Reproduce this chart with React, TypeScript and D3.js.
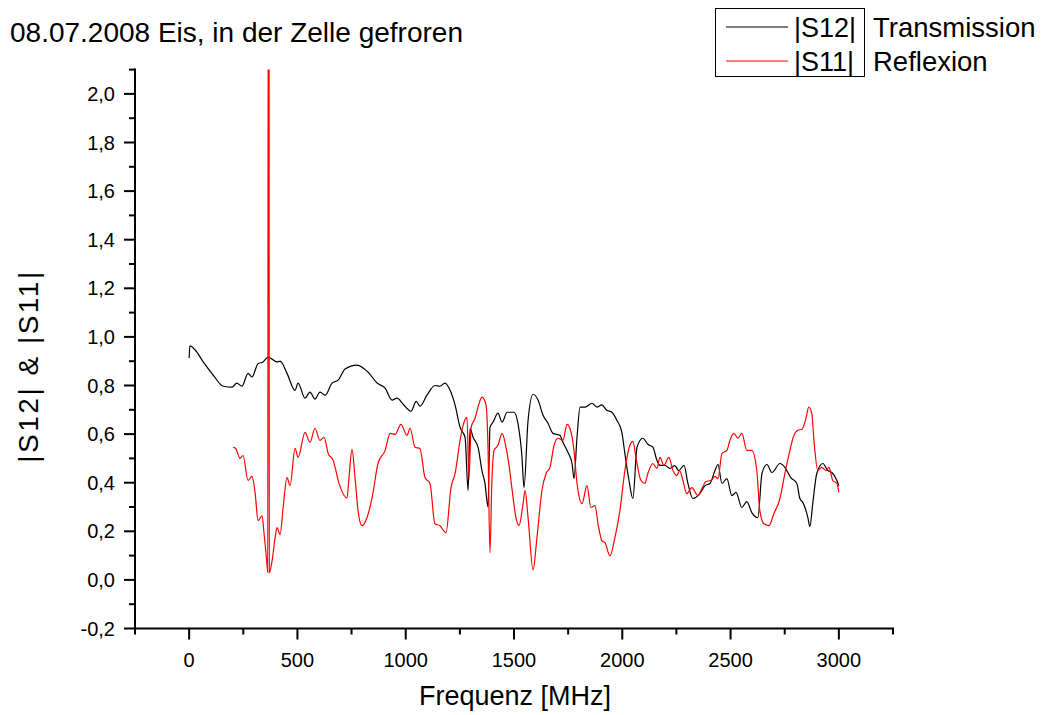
import { useRef, useEffect } from 'react';
import * as d3 from 'd3';

// |S12| Transmission, [MHz, value]
const s12: [number, number][] = [
  [0, 0.913], [3, 0.963], [28, 0.946], [65, 0.897], [111, 0.843], [157, 0.797], [198, 0.793],
  [220, 0.81], [244, 0.797], [272, 0.85], [290, 0.835], [318, 0.89], [341, 0.897], [365, 0.917],
  [406, 0.897], [420, 0.9], [452, 0.85], [489, 0.78], [503, 0.81], [535, 0.748], [558, 0.773],
  [581, 0.744], [604, 0.773], [628, 0.76], [660, 0.81], [688, 0.822], [720, 0.868], [775, 0.884],
  [826, 0.855], [868, 0.81], [905, 0.789], [937, 0.74], [960, 0.748], [988, 0.723], [1025, 0.694],
  [1048, 0.735], [1066, 0.715], [1098, 0.76], [1135, 0.8], [1158, 0.797], [1181, 0.81], [1205, 0.78],
  [1228, 0.719], [1251, 0.628], [1274, 0.587], [1288, 0.368], [1297, 0.624], [1311, 0.587],
  [1334, 0.546], [1352, 0.45], [1366, 0.397], [1380, 0.3], [1389, 0.628], [1403, 0.649],
  [1426, 0.686], [1445, 0.649], [1468, 0.69], [1500, 0.69], [1518, 0.645], [1537, 0.504],
  [1546, 0.38], [1565, 0.657], [1588, 0.764], [1611, 0.74], [1634, 0.678], [1657, 0.645],
  [1680, 0.603], [1712, 0.595], [1726, 0.566], [1749, 0.525], [1768, 0.479], [1777, 0.417],
  [1791, 0.587], [1805, 0.711], [1828, 0.711], [1860, 0.727], [1883, 0.711], [1905, 0.72],
  [1929, 0.698], [1952, 0.69], [1975, 0.657], [1998, 0.607], [2012, 0.52], [2031, 0.409],
  [2049, 0.335], [2068, 0.546], [2095, 0.583], [2118, 0.558], [2141, 0.546], [2160, 0.492],
  [2174, 0.471], [2197, 0.471], [2220, 0.459], [2243, 0.47], [2260, 0.45], [2285, 0.471],
  [2303, 0.397], [2326, 0.335], [2358, 0.355], [2382, 0.388], [2405, 0.397], [2428, 0.45],
  [2442, 0.475], [2460, 0.397], [2483, 0.417], [2506, 0.347], [2525, 0.36], [2552, 0.298],
  [2575, 0.322], [2598, 0.277], [2626, 0.256], [2645, 0.438], [2668, 0.475], [2691, 0.442],
  [2728, 0.479], [2751, 0.463], [2778, 0.421], [2806, 0.397], [2820, 0.335], [2834, 0.318],
  [2857, 0.256], [2866, 0.219], [2880, 0.318], [2898, 0.438], [2926, 0.479], [2949, 0.45],
  [2968, 0.442], [2991, 0.409], [3000, 0.388],
];

// |S11| Reflexion, [MHz, value] (spike near 366 MHz runs off the top)
const s11: [number, number][] = [
  [203, 0.546], [215, 0.541], [235, 0.5], [249, 0.512], [272, 0.409], [290, 0.426], [305, 0.355],
  [318, 0.244], [337, 0.264], [346, 0.19], [358, 0.08], [363, 0.03], [365, 2.5], [369, 2.5],
  [370, 0.03], [383, 0.079],
  [397, 0.174], [406, 0.215], [420, 0.186], [434, 0.298], [452, 0.421], [466, 0.388], [489, 0.541],
  [503, 0.504], [535, 0.607], [558, 0.566], [581, 0.624], [604, 0.574], [623, 0.587], [642, 0.52],
  [665, 0.492], [692, 0.397], [729, 0.337], [738, 0.42], [752, 0.537], [766, 0.421], [780, 0.285],
  [798, 0.223], [821, 0.256], [845, 0.339], [872, 0.479], [905, 0.533], [928, 0.603], [951, 0.599],
  [978, 0.64], [1006, 0.595], [1020, 0.624], [1043, 0.546], [1066, 0.54], [1089, 0.421],
  [1112, 0.397], [1135, 0.231], [1158, 0.223], [1186, 0.194], [1209, 0.38], [1228, 0.438],
  [1251, 0.574], [1265, 0.636], [1283, 0.669], [1292, 0.417], [1302, 0.628], [1320, 0.665],
  [1334, 0.711], [1352, 0.752], [1371, 0.719], [1380, 0.546], [1389, 0.112], [1398, 0.409],
  [1408, 0.533], [1426, 0.554], [1445, 0.603], [1463, 0.546], [1477, 0.471], [1490, 0.38],
  [1509, 0.256], [1523, 0.223], [1542, 0.314], [1551, 0.368], [1565, 0.256], [1588, 0.041],
  [1606, 0.174], [1629, 0.368], [1648, 0.438], [1666, 0.463], [1685, 0.554], [1703, 0.583],
  [1726, 0.574], [1745, 0.64], [1758, 0.624], [1777, 0.533], [1791, 0.397], [1814, 0.314],
  [1837, 0.388], [1855, 0.298], [1874, 0.306], [1888, 0.231], [1906, 0.161], [1920, 0.153],
  [1943, 0.099], [1966, 0.174], [1989, 0.285], [2012, 0.45], [2035, 0.554], [2049, 0.57],
  [2063, 0.504], [2086, 0.409], [2104, 0.397], [2118, 0.438], [2141, 0.479], [2160, 0.459],
  [2174, 0.504], [2192, 0.471], [2215, 0.504], [2234, 0.45], [2252, 0.43], [2265, 0.45],
  [2280, 0.409], [2298, 0.355], [2321, 0.38], [2349, 0.347], [2368, 0.376], [2386, 0.405],
  [2409, 0.409], [2428, 0.426], [2442, 0.417], [2460, 0.52], [2483, 0.533], [2497, 0.574],
  [2515, 0.603], [2534, 0.583], [2552, 0.603], [2575, 0.533], [2598, 0.533], [2621, 0.45],
  [2635, 0.285], [2654, 0.231], [2677, 0.223], [2700, 0.273], [2728, 0.335], [2751, 0.438],
  [2774, 0.533], [2788, 0.583], [2811, 0.616], [2830, 0.62], [2848, 0.665], [2861, 0.711],
  [2875, 0.686], [2885, 0.574], [2903, 0.45], [2921, 0.463], [2940, 0.45], [2954, 0.463],
  [2972, 0.409], [2991, 0.397], [3000, 0.36],
];

const xMajor = [0, 500, 1000, 1500, 2000, 2500, 3000];
const xMinor = [-250, 250, 750, 1250, 1750, 2250, 2750, 3250];
const yMajor = [-0.2, 0, 0.2, 0.4, 0.6, 0.8, 1.0, 1.2, 1.4, 1.6, 1.8, 2.0];
const yMinor = [-0.1, 0.1, 0.3, 0.5, 0.7, 0.9, 1.1, 1.3, 1.5, 1.7, 1.9, 2.1];

const legendItems = [
  { name: '|S12|', desc: 'Transmission', color: '#000000' },
  { name: '|S11|', desc: 'Reflexion', color: '#ff0000' },
];

const FONT = '"Liberation Sans", Arial, sans-serif';

export default function App() {
  const svgRef = useRef<SVGSVGElement>(null);
  const width = 1043;
  const height = 715;

  useEffect(() => {
    const svg = d3.select(svgRef.current);
    svg.selectAll('*').remove();

    const x = d3.scaleLinear().domain([-250, 3250]).range([135, 893]);
    const y = d3.scaleLinear().domain([-0.2, 2.1]).range([628.5, 69.6]);

    svg.append('rect').attr('width', width).attr('height', height).attr('fill', '#fff');

    svg.append('defs').append('clipPath').attr('id', 'plotclip')
      .append('rect')
      .attr('x', x(-250)).attr('y', y(2.1))
      .attr('width', x(3250) - x(-250)).attr('height', y(-0.2) - y(2.1));

    // Title
    svg.append('text').attr('x', 10).attr('y', 42)
      .attr('font-family', FONT).attr('font-size', 28).attr('fill', '#000')
      .text('08.07.2008 Eis, in der Zelle gefroren');

    const line = d3.line<[number, number]>()
      .x(d => x(d[0]))
      .y(d => y(d[1]))
      .curve(d3.curveMonotoneX);

    const plot = svg.append('g').attr('clip-path', 'url(#plotclip)');
    plot.append('path').datum(s12)
      .attr('d', line).attr('fill', 'none')
      .attr('stroke', '#000').attr('stroke-width', 1.2);
    plot.append('path').datum(s11)
      .attr('d', line).attr('fill', 'none')
      .attr('stroke', '#ff0000').attr('stroke-width', 1.2);

    // Axes
    const ax = svg.append('g').attr('stroke', '#000').attr('stroke-width', 2);
    ax.append('line').attr('x1', x(-250)).attr('x2', x(3250))
      .attr('y1', y(-0.2)).attr('y2', y(-0.2)).attr('stroke-linecap', 'square');
    ax.append('line').attr('x1', x(-250)).attr('x2', x(-250))
      .attr('y1', y(-0.2)).attr('y2', y(2.1)).attr('stroke-linecap', 'square');

    xMajor.forEach(t => {
      ax.append('line').attr('x1', x(t)).attr('x2', x(t))
        .attr('y1', y(-0.2)).attr('y2', y(-0.2) + 11);
    });
    xMinor.forEach(t => {
      ax.append('line').attr('x1', x(t)).attr('x2', x(t))
        .attr('y1', y(-0.2)).attr('y2', y(-0.2) + 6);
    });
    yMajor.forEach(t => {
      ax.append('line').attr('x1', x(-250) - 11).attr('x2', x(-250))
        .attr('y1', y(t)).attr('y2', y(t));
    });
    yMinor.forEach(t => {
      ax.append('line').attr('x1', x(-250) - 6).attr('x2', x(-250))
        .attr('y1', y(t)).attr('y2', y(t));
    });

    xMajor.forEach(t => {
      svg.append('text').attr('x', x(t)).attr('y', y(-0.2) + 38)
        .attr('text-anchor', 'middle').attr('font-family', FONT)
        .attr('font-size', 20).text(String(t));
    });
    yMajor.forEach(t => {
      svg.append('text').attr('x', x(-250) - 20).attr('y', y(t) + 7)
        .attr('text-anchor', 'end').attr('font-family', FONT)
        .attr('font-size', 20).text(t.toFixed(1).replace('.', ','));
    });

    // Axis titles
    svg.append('text').attr('x', 515).attr('y', 705)
      .attr('text-anchor', 'middle').attr('font-family', FONT)
      .attr('font-size', 27).text('Frequenz [MHz]');
    svg.append('text')
      .attr('transform', `translate(38,366) rotate(-90)`)
      .attr('text-anchor', 'middle').attr('font-family', FONT)
      .attr('font-size', 28).attr('letter-spacing', 2.5).text('|S12| & |S11|');

    // Legend
    const lg = svg.append('g');
    lg.append('rect').attr('x', 715.5).attr('y', 8.5).attr('width', 149).attr('height', 68)
      .attr('fill', 'none').attr('stroke', '#000').attr('stroke-width', 1);
    legendItems.forEach((d, i) => {
      const cy = 27 + i * 34;
      lg.append('line').attr('x1', 726).attr('x2', 788)
        .attr('y1', cy).attr('y2', cy)
        .attr('stroke', d.color).attr('stroke-width', 1);
      lg.append('text').attr('x', 794).attr('y', cy + 10)
        .attr('font-family', FONT).attr('font-size', 27).text(d.name);
      lg.append('text').attr('x', 873).attr('y', cy + 10)
        .attr('font-family', FONT).attr('font-size', 27.5).text(d.desc);
    });
  }, []);

  return (
    <svg ref={svgRef} width={width} height={height}
      style={{ position: 'absolute', left: 0, top: 0, display: 'block' }} />
  );
}
